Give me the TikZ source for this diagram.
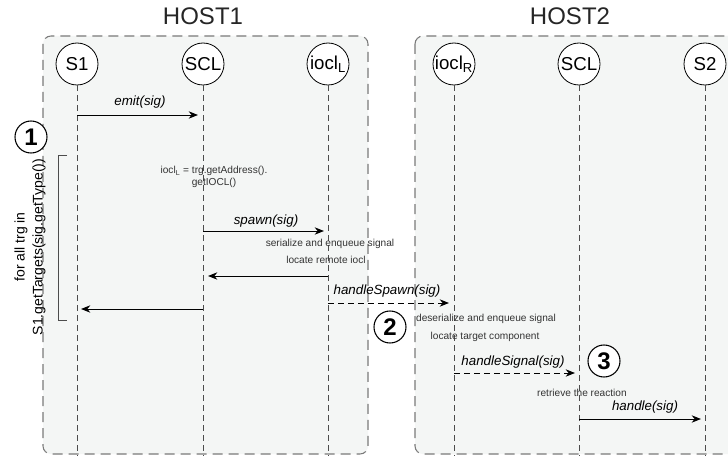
\documentclass[tikz,border=0pt]{standalone}
\usepackage{fontspec}
\setmainfont{Liberation Sans}
\usetikzlibrary{arrows.meta}
\definecolor{boxfill}{HTML}{F4F6F5}
\definecolor{boxline}{HTML}{7A7A7A}
\begin{document}
\begin{tikzpicture}[x=0.75pt,y=-0.75pt,
  hostbox/.style={draw=boxline, dash pattern=on 7.5pt off 4.5pt, fill=boxfill, rounded corners=6pt, line width=0.8pt},
  lifehead/.style={circle, draw, fill=white, line width=0.6pt, minimum size=31.5pt, inner sep=0pt, font=\fontsize{14}{16}\selectfont},
  lifeline/.style={draw=black!70, dash pattern=on 4.5pt off 3pt, line width=0.6pt},
  msg/.style={-{Stealth[length=7pt,width=5.5pt]}, line width=0.7pt},
  amsg/.style={msg, dash pattern=on 4.5pt off 3pt},
  mlabel/.style={font=\fontsize{10}{12}\selectfont\itshape, inner sep=0pt},
  note/.style={font=\fontsize{7.6}{8.5}\selectfont, inner sep=0pt, text=black!80, align=center},
  stepnum/.style={circle, draw, fill=white, line width=0.8pt, minimum size=24pt, inner sep=0pt, font=\fontsize{18}{18}\selectfont\bfseries},
  hosttitle/.style={font=\fontsize{18}{20}\selectfont, text=black!85, inner sep=0pt},
  bracket/.style={draw=black!70, line width=0.7pt}
]
\useasboundingbox (0,0) rectangle (728,456);
\fill[white] (0,0) rectangle (728,456);

% host boxes
\begin{scope}
\clip (0,0) rectangle (728,456);
\draw[hostbox] (43,36) rectangle (368,454);
\draw[hostbox] (415,36) rectangle (745,454);
\end{scope}

\node[hosttitle] (h1) at (203,16) {HOST1};
\node[hosttitle] (h2) at (570,16) {HOST2};

% lifeline heads
\node[lifehead] (s1) at (77,64) {S1};
\node[lifehead] (scl1) at (203,64) {SCL};
\node[lifehead] (ioclL) at (328,64) {iocl\textsubscript{L}};
\node[lifehead] (ioclR) at (454,64) {iocl\textsubscript{R}};
\node[lifehead] (scl2) at (579,64) {SCL};
\node[lifehead] (s2) at (705,64) {S2};

% lifeline ends
\coordinate (s1e) at (77,456);
\coordinate (scl1e) at (203,456);
\coordinate (ioclLe) at (328,456);
\coordinate (ioclRe) at (454,456);
\coordinate (scl2e) at (579,456);
\coordinate (s2e) at (705,456);
\draw[lifeline] (s1) -- (s1e);
\draw[lifeline] (scl1) -- (scl1e);
\draw[lifeline] (ioclL) -- (ioclLe);
\draw[lifeline] (ioclR) -- (ioclRe);
\draw[lifeline] (scl2) -- (scl2e);
\draw[lifeline] (s2) -- (s2e);

% emit
\coordinate (m1a) at (77,115);
\coordinate (m1b) at (198,115);
\draw[msg] (m1a) -- (m1b);
\node[mlabel] (l1) at (140,102) {emit(sig)};

% loop bracket and label
\coordinate (bt) at (67,155);
\coordinate (bb) at (58,320);
\coordinate (bbe) at (67,320);
\draw[bracket] (bt) -| (bb) -- (bbe);
\node[rotate=90, align=center, font=\fontsize{10.5}{13.5}\selectfont, inner sep=0pt] (loop) at (30,247) {for all trg in\\S1.getTargets(sig.getType())};
\node[stepnum] (n1) at (31,137) {1};

% address note
\node[note] (addr) at (214,177) {iocl\textsubscript{L} = trg.getAddress().\\getIOCL()};

% spawn
\coordinate (m2a) at (203,231);
\coordinate (m2b) at (324,231);
\draw[msg] (m2a) -- (m2b);
\node[mlabel] (l2) at (266,221) {spawn(sig)};
\node[note] (ser) at (330,244) {serialize and enqueue signal};
\node[note] (loc) at (326,260) {locate remote iocl};

% return to SCL
\coordinate (m3a) at (328,276);
\coordinate (m3b) at (208,276);
\draw[msg] (m3a) -- (m3b);

% handleSpawn
\coordinate (m4a) at (328,303);
\coordinate (m4b) at (449,303);
\draw[amsg] (m4a) -- (m4b);
\node[mlabel] (l4) at (387,291) {handleSpawn(sig)};

% return to S1
\coordinate (m5a) at (203,309);
\coordinate (m5b) at (81,309);
\draw[msg] (m5a) -- (m5b);

\node[stepnum] (n2) at (390,327) {2};
\node[note] (deser) at (486,319) {deserialize and enqueue signal};
\node[note] (loct) at (485,337) {locate target component};

% handleSignal
\coordinate (m6a) at (454,373);
\coordinate (m6b) at (575,373);
\draw[amsg] (m6a) -- (m6b);
\node[mlabel] (l6) at (513,362) {handleSignal(sig)};
\node[stepnum] (n3) at (604,361) {3};
\node[note] (ret) at (582,393) {retrieve the reaction};

% handle
\coordinate (m7a) at (579,419);
\coordinate (m7b) at (701,419);
\draw[msg] (m7a) -- (m7b);
\node[mlabel] (l7) at (645,407) {handle(sig)};
\end{tikzpicture}
\end{document}
